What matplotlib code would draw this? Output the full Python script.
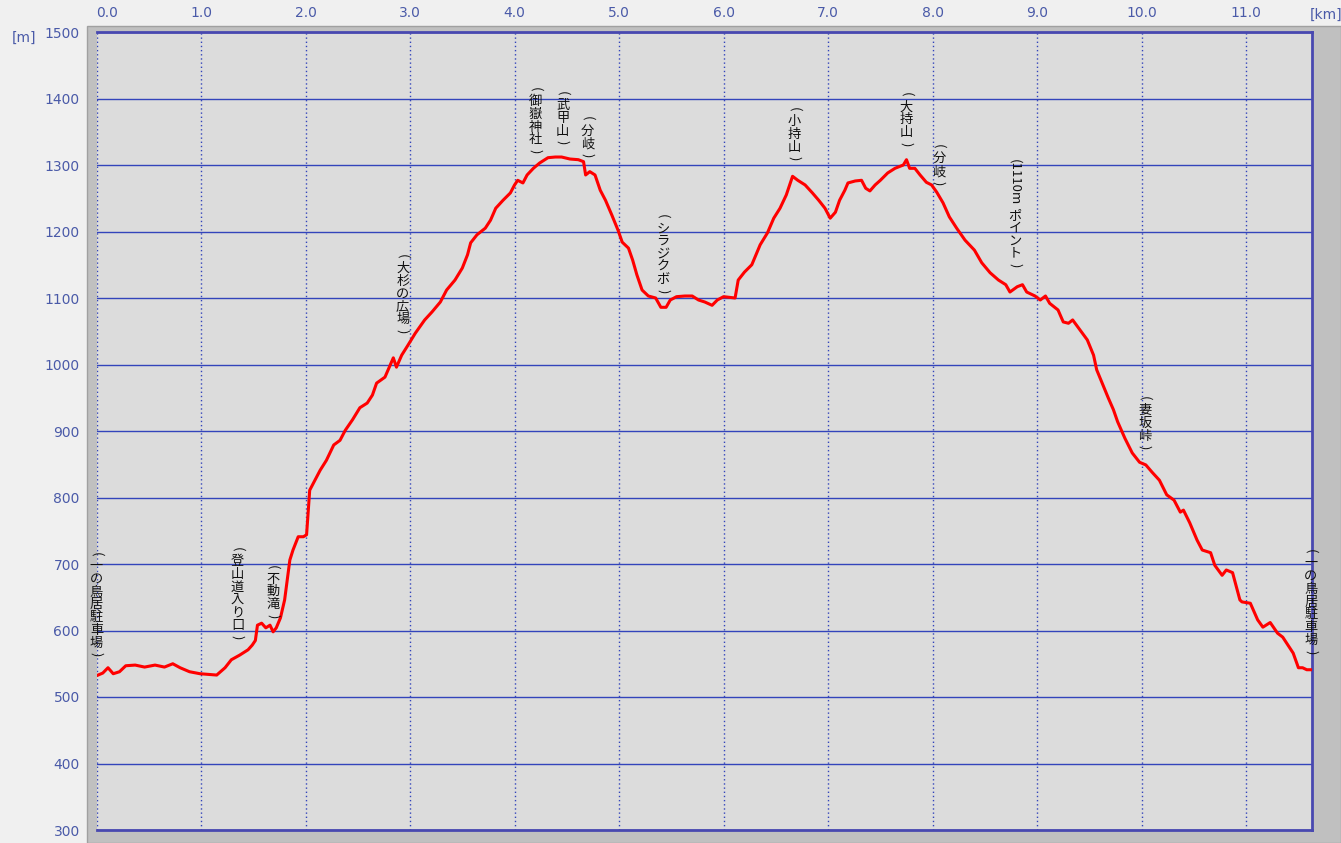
import matplotlib
matplotlib.use("Agg")
import matplotlib.pyplot as plt
from matplotlib.patches import Rectangle
from matplotlib.font_manager import FontProperties

# ── Elevation profile (distance [km], elevation [m]) ───────────────────────
dist_km = [0.00, 0.06, 0.11, 0.16, 0.22, 0.28, 0.37, 0.46, 0.56, 0.65, 0.73, 0.80,
           0.89, 0.99, 1.15, 1.23, 1.29, 1.37, 1.45, 1.49, 1.52, 1.54, 1.58, 1.62,
           1.66, 1.69, 1.72, 1.76, 1.80, 1.85, 1.88, 1.93, 1.98, 2.01, 2.04, 2.09,
           2.14, 2.20, 2.27, 2.33, 2.38, 2.45, 2.52, 2.59, 2.64, 2.68, 2.76, 2.81,
           2.84, 2.87, 2.92, 2.98, 3.05, 3.14, 3.21, 3.29, 3.35, 3.43, 3.50, 3.55,
           3.58, 3.64, 3.72, 3.77, 3.82, 3.89, 3.96, 4.00, 4.03, 4.08, 4.12, 4.18,
           4.24, 4.32, 4.39, 4.45, 4.53, 4.61, 4.66, 4.68, 4.72, 4.77, 4.82, 4.87,
           4.93, 4.99, 5.03, 5.09, 5.13, 5.17, 5.22, 5.28, 5.35, 5.40, 5.45, 5.49,
           5.55, 5.63, 5.70, 5.76, 5.82, 5.89, 5.94, 6.00, 6.11, 6.14, 6.20, 6.27,
           6.35, 6.42, 6.48, 6.54, 6.60, 6.66, 6.71, 6.78, 6.85, 6.91, 6.97, 7.02,
           7.07, 7.11, 7.16, 7.19, 7.26, 7.32, 7.36, 7.40, 7.45, 7.50, 7.57, 7.64,
           7.72, 7.75, 7.78, 7.83, 7.88, 7.94, 7.99, 8.04, 8.10, 8.16, 8.23, 8.31,
           8.40, 8.47, 8.55, 8.63, 8.70, 8.74, 8.81, 8.86, 8.90, 8.98, 9.03, 9.08,
           9.12, 9.20, 9.25, 9.30, 9.34, 9.41, 9.48, 9.54, 9.57, 9.63, 9.68, 9.73,
           9.77, 9.84, 9.91, 9.98, 10.04, 10.10, 10.17, 10.24, 10.31, 10.37, 10.40,
           10.46, 10.53, 10.58, 10.66, 10.70, 10.77, 10.81, 10.87, 10.94, 10.96,
           11.04, 11.11, 11.16, 11.23, 11.30, 11.35, 11.45, 11.50, 11.54, 11.58, 11.62]
elev_m = [532, 536, 544, 535, 538, 547, 548, 545, 548, 545, 550, 544,
          538, 535, 533, 544, 556, 563, 571, 578, 585, 608, 611, 604,
          608, 598, 604, 619, 646, 706, 721, 741, 741, 744, 811, 826,
          841, 856, 879, 886, 901, 917, 935, 942, 954, 972, 981, 999,
          1010, 996, 1014, 1029, 1047, 1067, 1079, 1094, 1112, 1127, 1145, 1165,
          1183, 1195, 1205, 1217, 1235, 1247, 1258, 1270, 1277, 1273, 1285, 1295,
          1303, 1311, 1312, 1312, 1309, 1308, 1305, 1285, 1290, 1285, 1262, 1247,
          1225, 1202, 1184, 1175, 1157, 1135, 1112, 1103, 1100, 1086, 1086, 1097,
          1102, 1103, 1103, 1097, 1094, 1089, 1097, 1102, 1100, 1127, 1139, 1150,
          1180, 1198, 1220, 1235, 1255, 1283, 1277, 1270, 1258, 1247, 1235, 1220,
          1229, 1247, 1262, 1273, 1276, 1277, 1265, 1261, 1270, 1277, 1288, 1295,
          1300, 1308, 1295, 1295, 1285, 1274, 1270, 1259, 1243, 1222, 1205, 1187,
          1172, 1153, 1138, 1127, 1120, 1109, 1117, 1120, 1109, 1103, 1097, 1103,
          1092, 1082, 1064, 1062, 1067, 1052, 1037, 1014, 992, 969, 950, 932,
          914, 889, 867, 853, 849, 838, 826, 804, 796, 778, 781,
          762, 736, 721, 717, 698, 683, 691, 687, 646, 643,
          641, 616, 605, 612, 596, 590, 566, 544, 544, 541, 541]

# ── Waypoint labels (km position, elevation of label top) ──────────────────
wp_names = ["(一の鳥居駐車場)", "(登山道入り口)", "(不動滝)", "(大杉の広場)",
            "(御嶽神社)", "(武甲山)", "(分岐)", "(シラジクボ)", "(小持山)",
            "(大持山)", "(分岐)", "(1110mポイント)", "(妻坂峠)", "(一の鳥居駐車場)"]
wp_km = [0.0, 1.35, 1.69, 2.93, 4.20, 4.46, 4.70, 5.42, 6.68,
         7.75, 8.06, 8.79, 10.03, 11.62]
wp_top = [717, 724, 698, 1165, 1416, 1410, 1372, 1225, 1386,
          1408, 1330, 1308, 951, 721]

x_ticks = [0, 1, 2, 3, 4, 5, 6, 7, 8, 9, 10, 11]
y_ticks = [300, 400, 500, 600, 700, 800, 900, 1000, 1100, 1200, 1300, 1400, 1500]

# ── Style ──────────────────────────────────────────────────────────────────
BG       = "#F0F0F0"
FRAME    = "#C0C0C0"
PANEL    = "#DCDCDC"
GRID     = "#3344BB"
BORDER   = "#4848B0"
TICKTXT  = "#4A5AA8"
LINE     = "#FF0000"
JP_FONT  = ["Noto Sans CJK JP", "DejaVu Sans"]

W, H, DPI = 1341, 843, 100
fig = plt.figure(figsize=(W / DPI, H / DPI), dpi=DPI)
fig.patch.set_facecolor(BG)

# gray frame behind the plot
fig.patches.append(Rectangle((87 / W, 0), (W - 87) / W, (H - 26) / H,
                             transform=fig.transFigure, facecolor=FRAME,
                             edgecolor="#A0A0A0", linewidth=1.0, zorder=-5))

ax = fig.add_axes([96.5 / W, (H - 830) / H, (1312 - 96.5) / W, (830 - 32) / H])
ax.set_zorder(1)
ax.set_facecolor(PANEL)
ax.set_xlim(0, 11.63)
ax.set_ylim(300, 1500)

ax.set_xticks(x_ticks)
ax.set_xticklabels([f"{v:.1f}" for v in x_ticks])
ax.set_yticks(y_ticks)
ax.xaxis.tick_top()
ax.tick_params(axis="x", length=0, pad=9, labelsize=10, labelcolor=TICKTXT)
ax.tick_params(axis="y", length=0, pad=12, labelsize=10, labelcolor=TICKTXT)
ax.get_xticklabels()[0].set_horizontalalignment("left")

for v in y_ticks:
    ax.axhline(v, color=GRID, linewidth=1.0, zorder=1)
for v in x_ticks:
    ax.axvline(v, color=GRID, linewidth=1.0, linestyle=(0, (1, 2)), zorder=1)

for side in ["top", "right", "bottom"]:
    ax.spines[side].set_color(BORDER)
    ax.spines[side].set_linewidth(2.0)
ax.spines["left"].set_visible(False)

ax.plot(dist_km, elev_m, color=LINE, linewidth=2.2, zorder=3)

fig.text(12 / W, 1 - 38 / H, "[m]", color=TICKTXT, fontsize=10, va="center")
fig.text(1310 / W, 1 - 15 / H, "[km]", color=TICKTXT, fontsize=10, va="center")

# ── Vertical Japanese labels: CJK upright, ASCII runs rotated ──────────────
renderer = fig.canvas.get_renderer()
FS = 9.5
prop = FontProperties(family=JP_FONT, size=FS)


def split_runs(s):
    runs = []
    for ch in s:
        upright = ord(ch) > 0x2E80
        if runs and not upright and not runs[-1][1]:
            runs[-1][0] += ch
        else:
            runs.append([ch, upright])
    return runs


def vlabel(km, top, text):
    off = 0.0
    prev_upright = False
    for run, upright in split_runs(text):
        if upright:
            ax.annotate(run, xy=(km, top), xytext=(0, -off), textcoords="offset points",
                        ha="center", va="top", fontsize=FS, family=JP_FONT,
                        color="#111111", zorder=4, annotation_clip=False)
            off += 9.2
        else:
            if prev_upright:
                off += 2.5   # CJK glyph sits low in its box
            w, _, _ = renderer.get_text_width_height_descent(run, prop, ismath=False)
            w_pt = w * 72 / DPI
            ax.annotate(run, xy=(km, top), xytext=(0, -off + 0.5), textcoords="offset points",
                        ha="center", va="top", rotation=-90, fontsize=FS, family=JP_FONT,
                        color="#111111", zorder=4, annotation_clip=False)
            off += w_pt + 2.0
        prev_upright = upright


for name, km, top in zip(wp_names, wp_km, wp_top):
    vlabel(km, top, name)

fig.savefig("out.png", dpi=DPI, facecolor=fig.get_facecolor())
